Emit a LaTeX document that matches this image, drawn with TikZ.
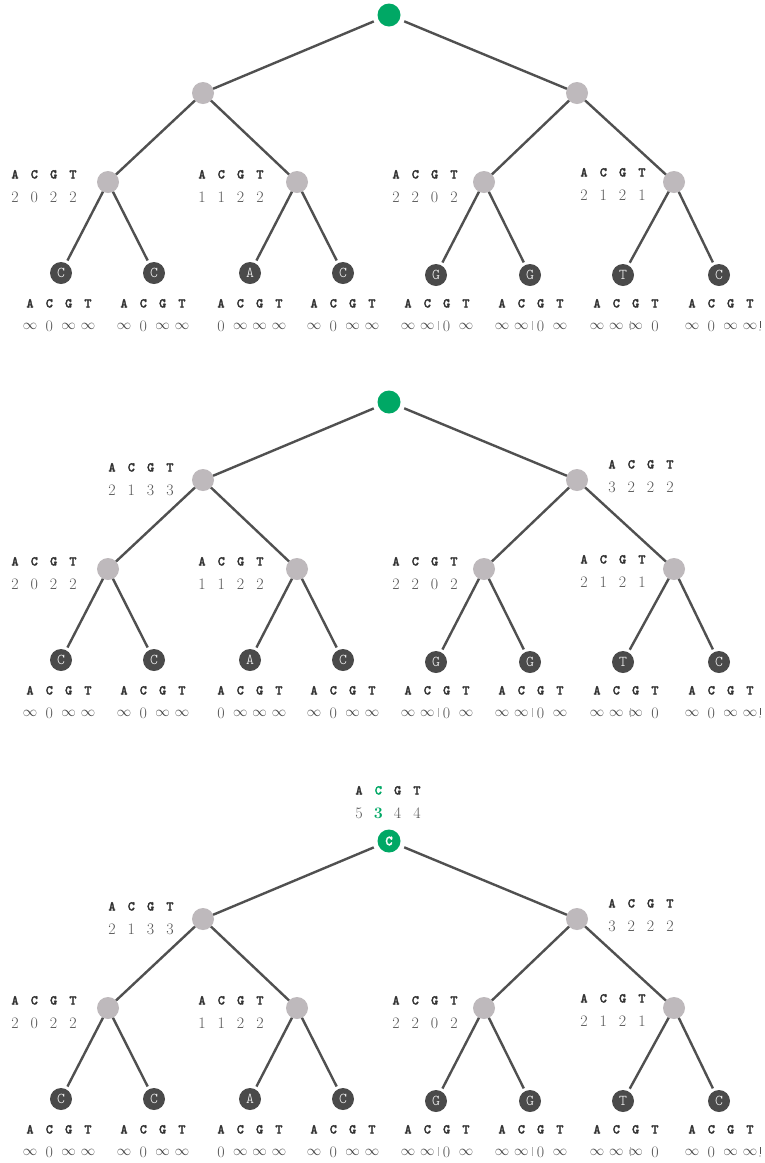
\documentclass[tikz,border=0pt]{standalone}
\usepackage{fontspec}
\usetikzlibrary{calc}
\newfontfamily\hdrfont[FakeBold=2]{lmmonolt10-bold.otf}
\newfontfamily\leaffont{lmmonolt10-regular.otf}
\definecolor{nodegray}{HTML}{BEB9BC}
\definecolor{edgegray}{HTML}{505050}
\definecolor{leafdark}{HTML}{4A4A4A}
\definecolor{rootgreen}{HTML}{00A865}
\definecolor{hdrtext}{HTML}{333333}
\definecolor{valtext}{HTML}{555555}
\definecolor{inftext}{HTML}{444444}
\definecolor{tickgray}{HTML}{B0B0B0}

% infinity entry of a cost row
\newcommand\infy{\raisebox{1.2pt}{\color{inftext}\fontsize{14.5}{14.5}\selectfont$\infty$}}

% one cost table: name, centre x, header-row centre y, four costs
\newcommand\costtable[7]{%
  \foreach \L [count=\k] in {A,C,G,T}
    \node[hdr] (#1h\k) at ({#2+(\k-2.5)*19.3},{#3+4.5}) {\L};
  \node[val] (#1v1) at ({#2-28.95},{#3+28}) {#4};
  \node[val] (#1v2) at ({#2-9.65},{#3+28}) {#5};
  \node[val] (#1v3) at ({#2+9.65},{#3+28}) {#6};
  \node[val] (#1v4) at ({#2+28.95},{#3+28}) {#7};
}

% the whole tree: name prefix, vertical offset, text of the root
\newcommand\drawtree[3]{%
  \node[rootnode] (#1r) at (389,{15+#2}) {#3};
  \node[inner] (#1a) at (203,{93+#2}) {};
  \node[inner] (#1b) at (577,{93+#2}) {};
  \node[inner] (#1c) at (108,{182+#2}) {};
  \node[inner] (#1d) at (297,{182+#2}) {};
  \node[inner] (#1e) at (484,{182+#2}) {};
  \node[inner] (#1f) at (674,{182+#2}) {};
  \node[leaf] (#1l1) at (61,{273+#2}) {C};
  \node[leaf] (#1l2) at (154,{273+#2}) {C};
  \node[leaf] (#1l3) at (250,{273+#2}) {A};
  \node[leaf] (#1l4) at (343,{273+#2}) {C};
  \node[leaf] (#1l5) at (436,{275+#2}) {G};
  \node[leaf] (#1l6) at (530,{275+#2}) {G};
  \node[leaf] (#1l7) at (623,{275+#2}) {T};
  \node[leaf] (#1l8) at (719,{275+#2}) {C};
  \draw[edge, shorten <=5pt] (#1r) -- (#1a);
  \draw[edge, shorten <=5pt] (#1r) -- (#1b);
  \draw[edge] (#1a) -- (#1c);
  \draw[edge] (#1a) -- (#1d);
  \draw[edge] (#1b) -- (#1e);
  \draw[edge] (#1b) -- (#1f);
  \draw[edge, shorten >=3pt] (#1c) -- (#1l1);
  \draw[edge, shorten >=3pt] (#1c) -- (#1l2);
  \draw[edge, shorten >=3pt] (#1d) -- (#1l3);
  \draw[edge, shorten >=3pt] (#1d) -- (#1l4);
  \draw[edge, shorten >=3pt] (#1e) -- (#1l5);
  \draw[edge, shorten >=3pt] (#1e) -- (#1l6);
  \draw[edge, shorten >=3pt] (#1f) -- (#1l7);
  \draw[edge, shorten >=3pt] (#1f) -- (#1l8);
  % costs of the inner nodes above the leaves
  \costtable{#1tc}{44}{174+#2}{2}{0}{2}{2}
  \costtable{#1td}{231}{174+#2}{1}{1}{2}{2}
  \costtable{#1te}{425}{174+#2}{2}{2}{0}{2}
  \costtable{#1tf}{613}{172+#2}{2}{1}{2}{1}
  % costs of the leaves
  \costtable{#1t1}{59}{303+#2}{\infy}{0}{\infy}{\infy}
  \costtable{#1t2}{153}{303+#2}{\infy}{0}{\infy}{\infy}
  \costtable{#1t3}{250}{303+#2}{0}{\infy}{\infy}{\infy}
  \costtable{#1t4}{343}{303+#2}{\infy}{0}{\infy}{\infy}
  \costtable{#1t5}{437}{303+#2}{\infy}{\infy}{0}{\infy}
  \costtable{#1t6}{531}{303+#2}{\infy}{\infy}{0}{\infy}
  \costtable{#1t7}{626}{303+#2}{\infy}{\infy}{\infy}{0}
  \costtable{#1t8}{721}{303+#2}{\infy}{0}{\infy}{\infy}
  % small separator marks in the leaf cost rows
  \coordinate (#1m1) at (438,{321+#2});
  \coordinate (#1m2) at (532,{321+#2});
  \coordinate (#1m3) at (630,{321+#2});
  \coordinate (#1m4) at (760,{321+#2});
  \draw[tickmark] (#1m1) -- ++(0,9);
  \draw[tickmark] (#1m2) -- ++(0,9);
  \draw[tickmark] (#1m3) -- ++(0,9);
  \draw[edgegray, line width=0.8pt] (#1m4) -- ++(0,6.5);
  \fill[edgegray] ($(#1m4)+(0,9)$) circle (0.6);
}

\begin{document}
\begin{tikzpicture}[x=1pt,y=-1pt,
  inner/.style={circle, fill=nodegray, minimum size=22pt, inner sep=0pt, outer sep=0pt},
  leaf/.style={circle, fill=leafdark, minimum size=22pt, inner sep=0pt, outer sep=0pt,
    text=white, font=\fontsize{15}{15}\leaffont},
  rootnode/.style={circle, fill=rootgreen, minimum size=23pt, inner sep=0pt, outer sep=0pt,
    text=white, font=\fontsize{14}{14}\hdrfont},
  edge/.style={draw=edgegray, line width=2.4pt},
  hdr/.style={anchor=base, inner sep=0pt, text=hdrtext,
    font=\fontsize{13.5}{13.5}\hdrfont},
  val/.style={anchor=base, inner sep=0pt, text=valtext, font=\fontsize{16}{16}\selectfont},
  tickmark/.style={draw=tickgray, line width=0.6pt}]
\useasboundingbox (0,0) rectangle (764,1163);
\fill[white] (0,0) rectangle (764,1163);

% first stage: costs at the leaves and their parents
\drawtree{p}{0}{}

% second stage: costs one level up
\drawtree{q}{387}{}
\costtable{qta}{141}{467}{2}{1}{3}{3}
\costtable{qtb}{641}{464}{3}{2}{2}{2}

% third stage: root cost, best letter C
\drawtree{s}{826}{C}
\costtable{sta}{141}{906}{2}{1}{3}{3}
\costtable{stb}{641}{903}{3}{2}{2}{2}
\node[hdr] (srA) at (359.05,794.5) {A};
\node[hdr, text=rootgreen] (srC) at (378.35,794.5) {C};
\node[hdr] (srG) at (397.65,794.5) {G};
\node[hdr] (srT) at (416.95,794.5) {T};
\node[val] (sr5) at (359.05,818) {5};
\node[val, text=rootgreen] (sr3) at (378.35,818) {\bfseries 3};
\node[val] (sr4a) at (397.65,818) {4};
\node[val] (sr4b) at (416.95,818) {4};
\end{tikzpicture}
\end{document}
